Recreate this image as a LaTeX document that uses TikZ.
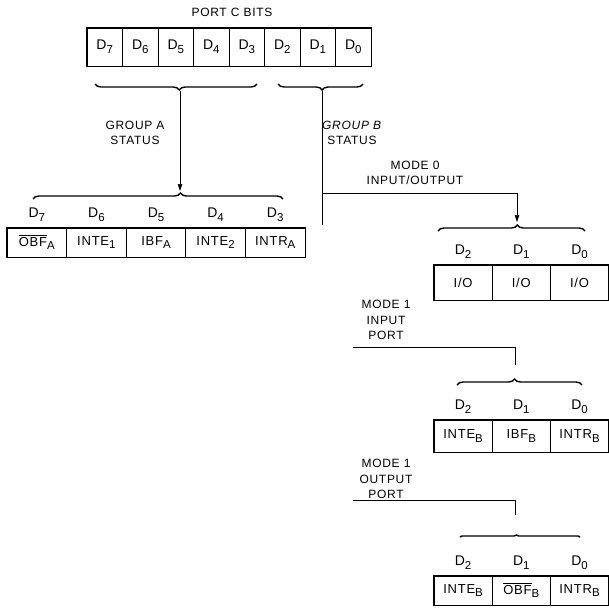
\documentclass[tikz,border=0pt]{standalone}
\usepackage{fontspec}
\setmainfont{Liberation Sans}[LetterSpace=6]
\usetikzlibrary{positioning,decorations.pathreplacing,arrows.meta}
\newcommand\bsub[1]{\raisebox{-0.55ex}{\fontsize{11.5}{11.5}\selectfont #1}}
\newcommand\ovl[1]{$\overline{\mbox{#1}}$}
\tikzset{
  caption/.style={font=\fontsize{12}{15.5}\selectfont, align=center, inner sep=0pt},
  bitcell/.style={draw, line width=0.7pt, inner sep=0pt, font=\fontsize{13}{15}\selectfont},
  bitlabel/.style={inner sep=0pt, font=\fontsize{14}{16}\selectfont},
  regframe/.style={line width=1.5pt},
  link/.style={line width=0.6pt},
  arrowlink/.style={link, -{Triangle[length=7pt,width=4.5pt]}},
  grpbrace/.style={decorate, line width=1.4pt, decoration={brace, amplitude=6pt, aspect=#1}}
}
\begin{document}
\begin{tikzpicture}[x=1pt, y=-1pt]
  \useasboundingbox (0,0) rectangle (609,607);

  % port C
  \node[caption] (title) at (232,12) {PORT C BITS};
  \foreach \b [count=\i from 0] in {7,...,0}
    \node[bitcell, minimum width=35.5pt, minimum height=38pt, font=\fontsize{14}{16}\selectfont] (c\b) at (104.75+35.5*\i,47) {D\bsub{\b}};
  \draw[regframe] (c7.north west) rectangle (c0.south east);
  \draw[grpbrace=0.52, decoration={mirror}] (95,84) -- (257,84);
  \draw[grpbrace=0.52, decoration={mirror}] (278,84) -- (363,84);
  \coordinate (tipA) at (180,91);
  \coordinate (tipB) at (322,91);

  % group A
  \node[caption] (grpA) at (135,133) {GROUP A\\STATUS};
  \foreach \b/\t [count=\i from 0] in {7/\ovl{OBF}\bsub{A}, 6/INTE\bsub{1}, 5/IBF\bsub{A}, 4/INTE\bsub{2}, 3/INTR\bsub{A}} {
    \node[bitcell, minimum width=59.6pt, minimum height=29pt] (a\b) at (36.8+59.6*\i,242.5) {\t};
    \node[bitlabel, above=6pt of a\b] (la\b) {D\bsub{\b}};
  }
  \draw[regframe] (a7.north west) rectangle (a3.south east);
  \draw[grpbrace=0.59] (33,199) -- (283,199);
  \coordinate (headA) at (180,191);
  \draw[arrowlink] (tipA) -- (headA);

  % group B, mode 0
  \node[caption] (grpB) at (352,133) {\textit{GROUP B}\\STATUS};
  \node[caption] (mode0) at (415,173) {MODE 0\\INPUT/OUTPUT};
  \coordinate (bendB) at (322,193);
  \coordinate (tailB) at (322,225);
  \coordinate (headB) at (517,222);
  \draw[link] (tipB) -- (tailB);
  \draw[arrowlink] (bendB) -| (headB);
  \draw[grpbrace=0.54] (438,231) -- (585,231);
  \foreach \b/\t [count=\i from 0] in {2/{I/O}, 1/{I/O}, 0/{I/O}} {
    \node[bitcell, minimum width=58.2pt, minimum height=35pt] (m\b) at (463.1+58.2*\i,282.5) {\t};
    \node[bitlabel, above=6pt of m\b] (lm\b) {D\bsub{\b}};
  }
  \draw[regframe] (m2.north west) rectangle (m0.south east);

  % mode 1 input
  \node[caption] (mode1in) at (386,320) {MODE 1\\INPUT\\PORT};
  \coordinate (inStart) at (353,347);
  \coordinate (inEnd) at (515,365);
  \draw[link] (inStart) -| (inEnd);
  \draw[grpbrace=0.46] (457,385) -- (582,385);
  \foreach \b/\t [count=\i from 0] in {2/INTE\bsub{B}, 1/IBF\bsub{B}, 0/INTR\bsub{B}} {
    \node[bitcell, minimum width=58.2pt, minimum height=32pt] (n\b) at (463.1+58.2*\i,436) {\t};
    \node[bitlabel, above=6pt of n\b] (ln\b) {D\bsub{\b}};
  }
  \draw[regframe] (n2.north west) rectangle (n0.south east);

  % mode 1 output
  \node[caption] (mode1out) at (386,479) {MODE 1\\OUTPUT\\PORT};
  \coordinate (outStart) at (353,500);
  \coordinate (outEnd) at (515,515);
  \draw[link] (outStart) -| (outEnd);
  \draw[grpbrace=0.47, decoration={amplitude=2pt}] (460,537) -- (580,537);
  \foreach \b/\t [count=\i from 0] in {2/INTE\bsub{B}, 1/\ovl{OBF}\bsub{B}, 0/INTR\bsub{B}} {
    \node[bitcell, minimum width=58.2pt, minimum height=29pt] (p\b) at (463.1+58.2*\i,590.5) {\t};
    \node[bitlabel, above=6pt of p\b] (lp\b) {D\bsub{\b}};
  }
  \draw[regframe] (p2.north west) rectangle (p0.south east);
\end{tikzpicture}
\end{document}
